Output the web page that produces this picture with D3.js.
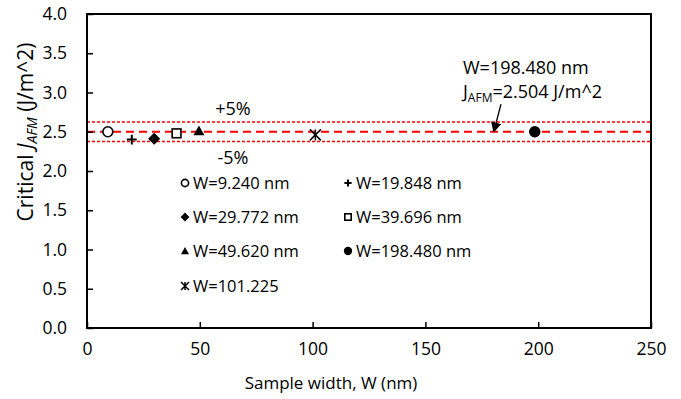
<!DOCTYPE html>
<html>
<head>
<meta charset="utf-8">
<script src="https://cdn.jsdelivr.net/npm/d3@7"></script>
<style>
  body { margin: 0; background: #fff; }
  svg text { font-family: "Open Sans", sans-serif; fill: #000; }
</style>
</head>
<body>
<div id="chart"></div>
<script>
// sample widths (nm) and critical J_AFM values
const widths = [9.240, 19.848, 29.772, 39.696, 49.620, 101.225, 198.480]
const jafm = [2.50, 2.40, 2.41, 2.48, 2.51, 2.46, 2.50]
const markers = ['circleOpen', 'plus', 'diamond', 'squareOpen', 'triangle', 'asterisk', 'circle']
const legendLabels = ['W=9.240 nm', 'W=19.848 nm', 'W=29.772 nm', 'W=39.696 nm', 'W=49.620 nm', 'W=101.225', 'W=198.480 nm']
// legend order as in the figure (two columns)
const legendOrder = [0, 1, 2, 3, 4, 6, 5]
const refValue = 2.5
const band = 0.05
const xTicks = [0, 50, 100, 150, 200, 250]
const yTicks = [0, 0.5, 1, 1.5, 2, 2.5, 3, 3.5, 4]
const arrowFrom = [183.5, 2.85]
const arrowTo = [180.3, 2.5]

const width = 681, height = 399
const margin = { top: 14, right: 30, bottom: 71, left: 87 }
const w = 651 - margin.left, h = 328 - margin.top

const svg = d3.select('#chart').append('svg')
  .attr('width', width).attr('height', height)

const x = d3.scaleLinear().domain([0, 250]).range([margin.left, margin.left + w])
const y = d3.scaleLinear().domain([0, 4]).range([margin.top + h, margin.top])

// marker symbols
function drawMarker(g, type, cx, cy, s) {
  const sw = 1.6
  if (type === 'circleOpen') {
    g.append('circle').attr('cx', cx).attr('cy', cy).attr('r', s * 0.45)
      .attr('fill', '#fff').attr('stroke', '#000').attr('stroke-width', sw)
  } else if (type === 'circle') {
    g.append('circle').attr('cx', cx).attr('cy', cy).attr('r', s * 0.52).attr('fill', '#000')
  } else if (type === 'plus') {
    const r = s * 0.45
    g.append('path').attr('d', `M${cx - r},${cy}H${cx + r}M${cx},${cy - r}V${cy + r}`)
      .attr('stroke', '#000').attr('stroke-width', 2)
  } else if (type === 'diamond') {
    const r = s * 0.55
    g.append('path').attr('d', `M${cx},${cy - r}L${cx + r},${cy}L${cx},${cy + r}L${cx - r},${cy}Z`)
      .attr('fill', '#000')
  } else if (type === 'squareOpen') {
    const r = s * 0.4
    g.append('rect').attr('x', cx - r).attr('y', cy - r).attr('width', 2 * r).attr('height', 2 * r)
      .attr('fill', '#fff').attr('stroke', '#000').attr('stroke-width', sw)
  } else if (type === 'triangle') {
    const r = s * 0.5
    g.append('path').attr('d', `M${cx},${cy - r}L${cx + r},${cy + r * 0.8}L${cx - r},${cy + r * 0.8}Z`)
      .attr('fill', '#000')
  } else if (type === 'asterisk') {
    const r = s * 0.5
    g.append('path')
      .attr('d', `M${cx - r},${cy - r}L${cx + r},${cy + r}M${cx + r},${cy - r}L${cx - r},${cy + r}M${cx},${cy - r}V${cy + r}`)
      .attr('stroke', '#000').attr('stroke-width', 1.5)
  }
}

// reference lines
svg.append('line')
  .attr('x1', x(0)).attr('x2', x(250)).attr('y1', y(refValue)).attr('y2', y(refValue))
  .attr('stroke', '#ff0000').attr('stroke-width', 2).attr('stroke-dasharray', '8,5')
;[1 + band, 1 - band].forEach(f => {
  svg.append('line')
    .attr('x1', x(0)).attr('x2', x(250)).attr('y1', y(refValue * f)).attr('y2', y(refValue * f))
    .attr('stroke', '#ff0000').attr('stroke-width', 1.5).attr('stroke-dasharray', '3,2')
})

// frame and axes
svg.append('rect')
  .attr('x', margin.left).attr('y', margin.top).attr('width', w).attr('height', h)
  .attr('fill', 'none').attr('stroke', '#000').attr('stroke-width', 2)

const xAxis = svg.append('g')
  .attr('transform', `translate(0,${margin.top + h})`)
  .call(d3.axisBottom(x).tickValues(xTicks).tickSizeInner(-6).tickSizeOuter(0).tickPadding(15).tickFormat(d3.format('d')))
xAxis.select('.domain').remove()
xAxis.selectAll('line').attr('stroke', '#000').attr('stroke-width', 1.5)
xAxis.selectAll('text').style('font-size', '17.5px')

const yAxis = svg.append('g')
  .attr('transform', `translate(${margin.left},0)`)
  .call(d3.axisLeft(y).tickValues(yTicks).tickSizeInner(-6).tickSizeOuter(0).tickPadding(20).tickFormat(d3.format('.1f')))
yAxis.select('.domain').remove()
yAxis.selectAll('line').attr('stroke', '#000').attr('stroke-width', 1.5)
yAxis.selectAll('text').style('font-size', '17.5px')

// axis titles
svg.append('text')
  .attr('x', 331).attr('y', 389)
  .attr('text-anchor', 'middle').style('font-size', '17px')
  .text('Sample width, W (nm)')

const yt = svg.append('text')
  .attr('transform', 'translate(33,132) rotate(-90)')
  .attr('text-anchor', 'middle').style('font-size', '21px')
yt.append('tspan').text('Critical ')
yt.append('tspan').style('font-style', 'italic').text('J')
yt.append('tspan').style('font-style', 'italic').style('font-size', '14px').attr('dy', 4).text('AFM')
yt.append('tspan').attr('dy', -4).text(' (J/m^2)')

// band labels
svg.append('text').attr('x', 233).attr('y', y(refValue * (1 + band)) - 7)
  .attr('text-anchor', 'middle').style('font-size', '18px').text('+5%')
svg.append('text').attr('x', 233).attr('y', y(refValue * (1 - band)) + 22)
  .attr('text-anchor', 'middle').style('font-size', '18px').text('-5%')

// data points
const pts = svg.append('g')
widths.forEach((d, i) => drawMarker(pts, markers[i], x(d), y(jafm[i]), 11))

// annotation
svg.append('defs').append('marker')
  .attr('id', 'arr').attr('viewBox', '0 0 10 10').attr('refX', 9).attr('refY', 5)
  .attr('markerWidth', 8).attr('markerHeight', 8).attr('orient', 'auto')
  .append('path').attr('d', 'M0,0L10,5L0,10Z').attr('fill', '#000')
svg.append('line')
  .attr('x1', x(arrowFrom[0])).attr('y1', y(arrowFrom[1]))
  .attr('x2', x(arrowTo[0])).attr('y2', y(arrowTo[1]))
  .attr('stroke', '#000').attr('stroke-width', 1.3).attr('marker-end', 'url(#arr)')
svg.append('text').attr('x', 463).attr('y', 74).style('font-size', '18px').text('W=198.480 nm')
const jt = svg.append('text').attr('x', 463).attr('y', 98).style('font-size', '18px')
jt.append('tspan').text('J')
jt.append('tspan').style('font-size', '12px').attr('dy', 4).text('AFM')
jt.append('tspan').attr('dy', -4).text('=2.504 J/m^2')

// legend
const legend = svg.append('g')
const colX = [185, 348]
const rowY = [183, 217, 251, 286]
legendOrder.forEach((idx, k) => {
  const cx = colX[k % 2], cy = rowY[Math.floor(k / 2)]
  drawMarker(legend, markers[idx], cx, cy, 8)
  legend.append('text').attr('x', cx + 8).attr('y', cy + 6)
    .style('font-size', '16.5px').text(legendLabels[idx])
})
</script>
</body>
</html>
